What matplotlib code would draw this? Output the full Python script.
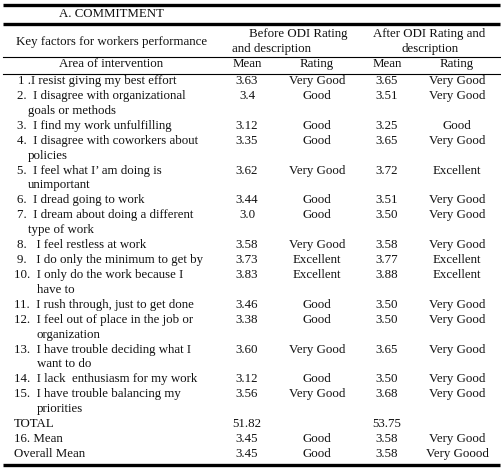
import matplotlib
matplotlib.use("Agg")
import matplotlib.pyplot as plt

# ---- data ----
title = "A. COMMITMENT"
items = [
    "1 .I resist giving my best effort",
    "2.  I disagree with organizational\ngoals or methods",
    "3.  I find my work unfulfilling",
    "4.  I disagree with coworkers about\npolicies",
    "5.  I feel what I\u2019 am doing is\nunimportant",
    "6.  I dread going to work",
    "7.  I dream about doing a different\ntype of work",
    "8.   I feel restless at work",
    "9.   I do only the minimum to get by",
    "10.  I only do the work because I\nhave to",
    "11.  I rush through, just to get done",
    "12.  I feel out of place in the job or\norganization",
    "13.  I have trouble deciding what I\nwant to do",
    "14.  I lack  enthusiasm for my work",
    "15.  I have trouble balancing my\npriorities",
    "TOTAL",
    "16. Mean",
    "Overall Mean",
]
mean_before = ["3.63", "3.4", "3.12", "3.35", "3.62", "3.44", "3.0", "3.58", "3.73",
               "3.83", "3.46", "3.38", "3.60", "3.12", "3.56", "51.82", "3.45", "3.45"]
rating_before = ["Very Good", "Good", "Good", "Good", "Very Good", "Good", "Good",
                 "Very Good", "Excellent", "Excellent", "Good", "Good", "Very Good",
                 "Good", "Very Good", "", "Good", "Good"]
mean_after = ["3.65", "3.51", "3.25", "3.65", "3.72", "3.51", "3.50", "3.58", "3.77",
              "3.88", "3.50", "3.50", "3.65", "3.50", "3.68", "53.75", "3.58", "3.58"]
rating_after = ["Very Good", "Very Good", "Good", "Very Good", "Excellent", "Very Good",
                "Very Good", "Very Good", "Excellent", "Excellent", "Very Good",
                "Very Good", "Very Good", "Very Good", "Very Good", "", "Very Good",
                "Very Goood"]
header_key = "Key factors for workers performance"
header_before = ["Before ODI Rating", "and description"]
header_after = ["After ODI Rating and", "description"]
subheaders = ["Area of intervention", "Mean", "Rating", "Mean", "Rating"]

# ---- figure ----
W, H = 501, 468
fig = plt.figure(figsize=(W / 100, H / 100), dpi=100)
ax = fig.add_axes([0, 0, 1, 1])
ax.set_xlim(0, W)
ax.set_ylim(H, 0)
ax.axis("off")

plt.rcParams["font.family"] = ["Liberation Serif", "DejaVu Serif"]
fs = 9.3
tc = "#111111"

def t(x, y, s, ha="center"):
    ax.text(x, y, s, ha=ha, va="center", fontsize=fs, color=tc,
            family=["Liberation Serif", "DejaVu Serif"])

# lines
x0, x1 = 3, 500
ax.plot([x0, x1], [4.5, 4.5], color="black", lw=2.4, solid_capstyle="butt")
ax.plot([x0, x1], [24, 24], color="black", lw=2.4, solid_capstyle="butt")
ax.plot([x0, x1], [56.5, 56.5], color="black", lw=0.8)
ax.plot([x0, x1], [73.5, 73.5], color="black", lw=0.8)
ax.plot([x0, x1], [465, 465], color="black", lw=2.4, solid_capstyle="butt")

# headers
t(111.5, 14, title)
t(111.5, 42, header_key)
t(249, 34, header_before[0], ha="left")
t(232, 49, header_before[1], ha="left")
t(373, 34, header_after[0], ha="left")
t(430, 49, header_after[1])
col_x = [111.5, 247, 317, 387, 457]
for cx, s in zip(col_x, subheaders):
    t(cx, 64, s)

# body
y0, dy = 81, 14.92
line = 0
for i, label in enumerate(items):
    parts = label.split("\n")
    y = y0 + dy * line
    if label.startswith("1 ."):
        lx, cx2 = 18, 28
    elif label[:2].isdigit() and label[2] == ".":
        lx, cx2 = 14, 37
    elif label[0].isdigit():
        lx, cx2 = 17, 28
    else:
        lx, cx2 = 14, 28
    t(lx, y, parts[0], ha="left")
    for k, p in enumerate(parts[1:], start=1):
        t(cx2, y + dy * k, p, ha="left")
    t(col_x[1], y, mean_before[i])
    t(col_x[2], y, rating_before[i])
    t(col_x[3], y, mean_after[i])
    t(col_x[4], y, rating_after[i])
    line += len(parts)

fig.savefig("out.png", dpi=100, facecolor="white")
